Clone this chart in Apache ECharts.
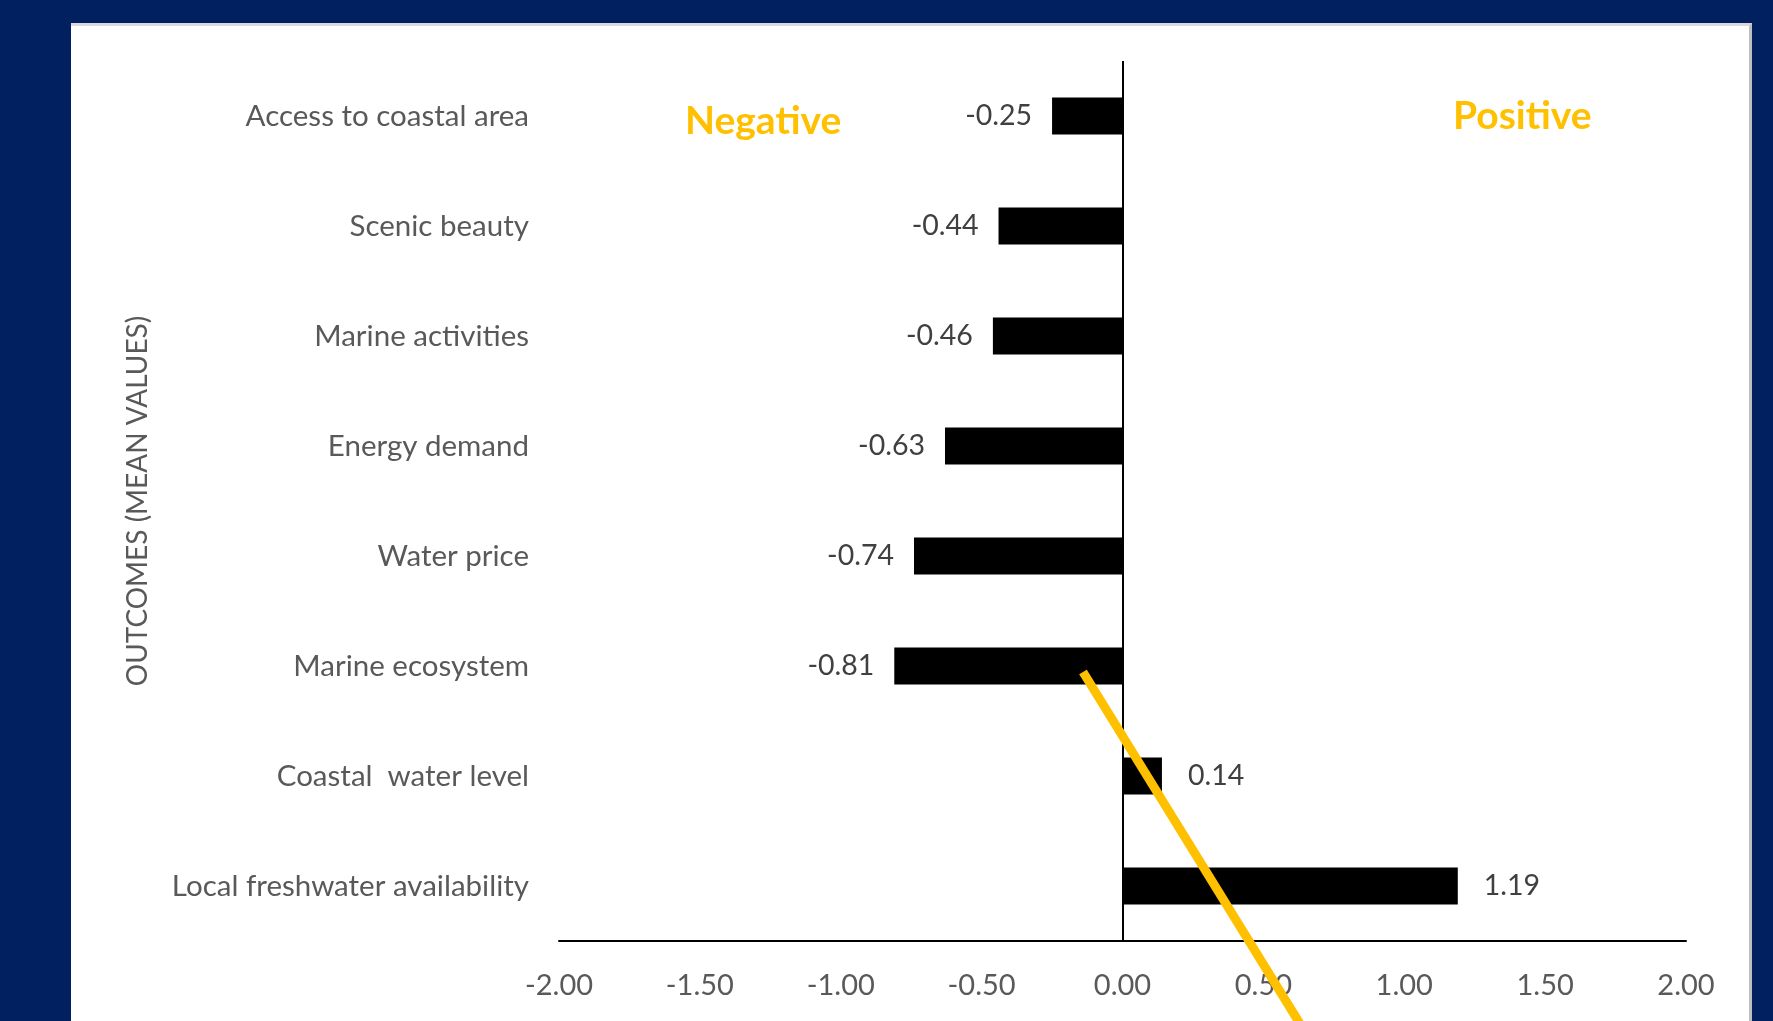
<!DOCTYPE html>
<html><head><meta charset="utf-8">
<script src="https://cdn.jsdelivr.net/npm/echarts@6/dist/echarts.min.js"></script>
<style>
html,body{margin:0;padding:0;background:#002060;width:1773px;height:1021px;overflow:hidden;}
#panel{position:absolute;left:71px;top:23px;width:1678px;height:1010px;background:#fff;border-top:3px solid #d9d9d9;border-right:3px solid #bfbfbf;}
#chart{position:absolute;left:0;top:0;width:1773px;height:1021px;}
</style></head>
<body><div id="panel"></div><div id="chart"></div>
<script>
const categories = ["Access to coastal area","Scenic beauty","Marine activities","Energy demand","Water price","Marine ecosystem","Coastal  water level","Local freshwater availability"];
const meanValues = [-0.25,-0.44,-0.46,-0.63,-0.74,-0.81,0.14,1.19];
const xTicks = [-2,-1.5,-1,-0.5,0,0.5,1,1.5,2];
const axisTitle = "OUTCOMES (MEAN VALUES)";

const FONT = 'Lato';
const chart = echarts.init(document.getElementById('chart'), null, {renderer:'canvas'});
chart.setOption({
  backgroundColor: 'transparent',
  animation: false,
  grid: {left: 559, right: 87, top: 61, bottom: 80, containLabel: false},
  xAxis: {
    type: 'value', min: xTicks[0], max: xTicks[xTicks.length-1], interval: 0.5,
    axisLine: {show: true, onZero: false, lineStyle: {color: '#000', width: 2}},
    axisTick: {show: false}, splitLine: {show: false},
    axisLabel: {margin: 30, color: '#595959', fontFamily: FONT, fontSize: 29, formatter: v => v.toFixed(2)}
  },
  yAxis: {
    type: 'category', data: categories, inverse: true,
    axisLine: {show: false, onZero: false}, axisTick: {show: false},
    axisLabel: {margin: 30, color: '#595959', fontFamily: FONT, fontSize: 29.5},
    name: axisTitle, nameLocation: 'middle', nameRotate: 90, nameGap: 407,
    nameTextStyle: {color: '#595959', fontFamily: FONT, fontSize: 28}
  },
  series: [{
    type: 'bar', barWidth: 37,
    data: meanValues.map(v => ({
      value: v,
      label: {position: v < 0 ? 'left' : 'right', distance: v < 0 ? 20 : 26}
    })),
    itemStyle: {color: '#000'},
    label: {show: true, color: '#404040', fontFamily: FONT, fontSize: 28.5, formatter: p => p.value.toFixed(2)},
    markLine: {silent: true, symbol: 'none', label: {show: false},
      lineStyle: {color: '#000', width: 2, type: 'solid'}, data: [{xAxis: 0}]}
  }],
  graphic: [
    {type: 'text', left: 762 - 77, top: 126 - 24, style: {text: 'Negative', fill: '#FFC000', font: 'bold 39px Lato'}},
    {type: 'text', left: 1522 - 69, top: 121 - 24, style: {text: 'Positive', fill: '#FFC000', font: 'bold 39px Lato'}},
    {type: 'line', z: 100, shape: {x1: 1083, y1: 672, x2: 1310, y2: 1040}, style: {stroke: '#FFC000', lineWidth: 9}}
  ]
});
</script></body></html>
